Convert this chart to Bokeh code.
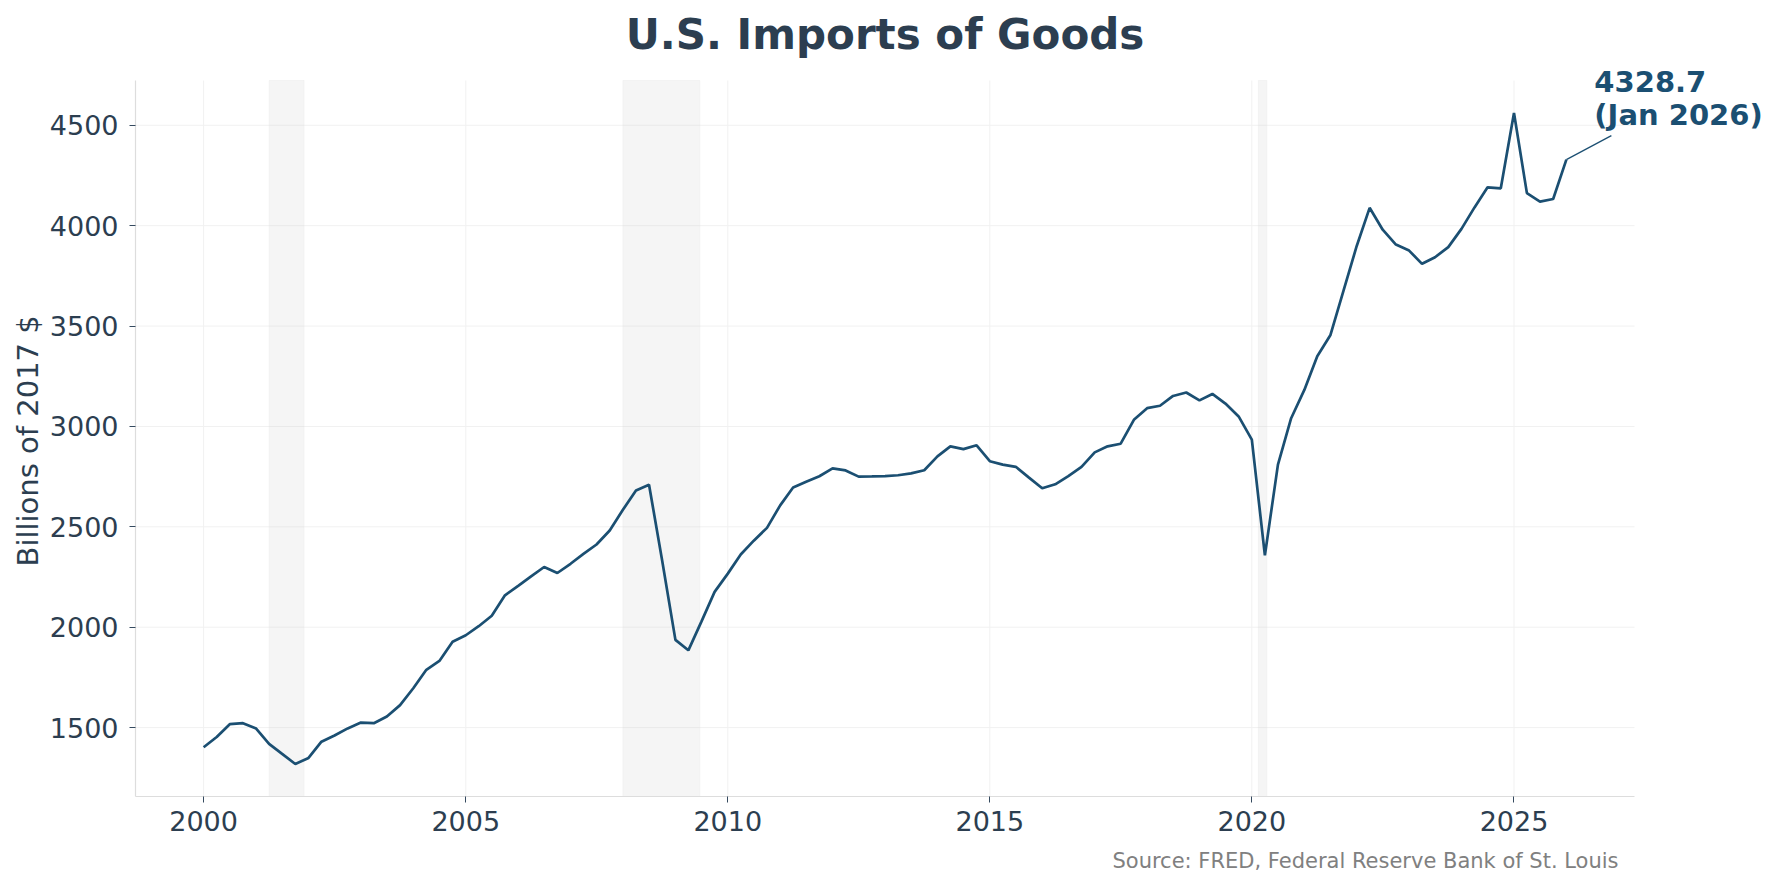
import numpy as np
import pandas as pd
from bokeh.plotting import figure
from bokeh.models import (Range1d, FixedTicker, DatetimeTickFormatter, BoxAnnotation,
                          Label, Arrow, Title, ColumnDataSource)
from bokeh.embed import file_html
from bokeh.resources import INLINE

# ---------------- data ----------------
quarter_start = "2000-01-01"
quarter_end = "2026-01-01"
imports_bn_2017usd = [
    1402, 1453, 1517, 1522,   # 2000
    1495, 1419, 1369, 1319,   # 2001
    1349, 1430, 1461, 1496,   # 2002
    1525, 1522, 1555, 1612,   # 2003
    1696, 1788, 1832, 1928,   # 2004
    1960, 2005, 2057, 2159,   # 2005
    2206, 2253, 2300, 2270,   # 2006
    2316, 2365, 2412, 2482,   # 2007
    2585, 2681, 2710, 2330,   # 2008
    1937, 1885, 2028, 2176,   # 2009
    2267, 2362, 2431, 2495,   # 2010
    2607, 2696, 2725, 2752,   # 2011
    2791, 2781, 2750, 2751,   # 2012
    2753, 2757, 2766, 2782,   # 2013
    2851, 2901, 2887, 2906,   # 2014
    2827, 2810, 2799, 2745,   # 2015
    2692, 2712, 2753, 2799,   # 2016
    2871, 2901, 2914, 3033,   # 2017
    3091, 3103, 3152, 3169,   # 2018
    3130, 3162, 3114, 3050,   # 2019
    2934, 2358, 2810, 3041,   # 2020
    3182, 3350, 3454, 3677,   # 2021
    3899, 4089, 3980, 3906,   # 2022
    3876, 3810, 3843, 3893,   # 2023
    3984, 4091, 4191, 4186,   # 2024
    4561, 4162, 4120, 4133,   # 2025
    4328.7,                   # 2026
]
y_ticks = [1500, 2000, 2500, 3000, 3500, 4000, 4500]
x_tick_years = [2000, 2005, 2010, 2015, 2020, 2025]
recession_starts = ["2001-04-01", "2008-01-01", "2020-02-15"]
recession_ends = ["2001-12-01", "2009-06-20", "2020-04-15"]
title_text = "U.S. Imports of Goods"
y_label = "Billions of 2017 $"
source_text = "Source: FRED, Federal Reserve Bank of St. Louis"
last_label_value = "4328.7"
last_label_date = "(Jan 2026)"

# ---------------- styling / layout constants ----------------
FONT = "DejaVu Sans"
DARK = "#2c3e50"
LINE = "#1b4f72"
GRID = "#f1f1f1"
W, H = 1763, 886
BL = 135            # left border (axis area)
AX_W, AX_H = 1499, 716   # visible axes box in px
EXT_TOP = 80        # frame extends above the axes box (room for title / labels)
EXT_RIGHT = W - BL - AX_W
BB = H - EXT_TOP - AX_H


def to_ms(d):
    return pd.Timestamp(d).value / 1e6


dates = pd.date_range(quarter_start, quarter_end, freq="QS")
t_ms = np.array([to_ms(d) for d in dates])
vals = np.array(imports_bn_2017usd, dtype=float)

tpad = 0.05 * (t_ms.max() - t_ms.min())
vpad = 0.05 * (vals.max() - vals.min())
x0, x1 = t_ms.min() - tpad, t_ms.max() + tpad
y0, y1 = vals.min() - vpad, vals.max() + vpad
px_x = (x1 - x0) / AX_W
px_y = (y1 - y0) / AX_H

p = figure(width=W, height=H, x_axis_type="datetime",
           x_range=Range1d(x0, x1 + EXT_RIGHT * px_x),
           y_range=Range1d(y0, y1 + EXT_TOP * px_y),
           output_backend="svg", toolbar_location=None,
           min_border_left=BL, min_border_right=0,
           min_border_top=0, min_border_bottom=BB)
p.outline_line_color = None
p.background_fill_color = "white"
p.border_fill_color = "white"
p.xgrid.visible = False
p.ygrid.visible = False

# grid lines limited to the axes box
x_tick_ms = [to_ms(f"{y}-01-01") for y in x_tick_years]
p.multi_line(xs=[[x0, x1] for _ in y_ticks], ys=[[v, v] for v in y_ticks],
             line_color=GRID, line_width=1, level="underlay")
p.multi_line(xs=[[t, t] for t in x_tick_ms], ys=[[y0, y1] for _ in x_tick_ms],
             line_color=GRID, line_width=1, level="underlay")

# recession bands
for s, e in zip(recession_starts, recession_ends):
    p.add_layout(BoxAnnotation(left=to_ms(s), right=to_ms(e), top=y1,
                               fill_color="#cccccc", fill_alpha=0.2,
                               line_color="#e6e6e6", line_width=1,
                               level="underlay"))

src = ColumnDataSource(dict(date=dates, value=vals))
p.line("date", "value", source=src, line_color=LINE, line_width=2.7)

# axes
p.xaxis.ticker = FixedTicker(ticks=x_tick_ms)
p.xaxis.formatter = DatetimeTickFormatter(
    years="%Y", months="%Y", days="%Y", hours="%Y", minutes="%Y",
    seconds="%Y", milliseconds="%Y", microseconds="%Y", hourmin="%Y", minsec="%Y")
p.xaxis.bounds = (x0, x1)
p.yaxis.ticker = FixedTicker(ticks=y_ticks)
p.yaxis.bounds = (y0, y1)

for ax in (p.xaxis[0], p.yaxis[0]):
    ax.axis_line_color = "#dddddd"
    ax.axis_line_width = 1.2
    ax.major_tick_line_color = "#34495e"
    ax.major_tick_in = 0
    ax.major_tick_out = 6
    ax.minor_tick_line_color = None
    ax.major_label_text_font = FONT
    ax.major_label_text_font_size = "27px"
    ax.major_label_text_color = DARK
p.xaxis.major_label_standoff = 8
p.yaxis.major_label_standoff = 11

# y-axis title, centred on the axes box (not on the extended frame)
p.add_layout(Title(text=y_label, align="left", offset=230, standoff=4,
                   text_font=FONT, text_font_size="29px", text_font_style="normal",
                   text_color=DARK), "left")

# chart title (drawn inside the extended frame, centred over the axes box)
p.add_layout(Label(x=(x0 + x1) / 2, y=y1, y_offset=46, text=title_text,
                   text_font=FONT, text_font_size="42px", text_font_style="bold",
                   text_color=DARK, text_align="center", text_baseline="alphabetic"))

# annotation for the last point
lx, ly = t_ms[-1], vals[-1]
p.add_layout(Arrow(end=None, x_start=lx, y_start=ly,
                   x_end=lx + 45 * px_x, y_end=ly + 24 * px_y,
                   line_color=LINE, line_width=1.3))
for txt, yoff in ((last_label_value, 78), (last_label_date, 45)):
    p.add_layout(Label(x=lx, y=ly, x_offset=28, y_offset=yoff, text=txt,
                       text_font=FONT, text_font_size="29px", text_font_style="bold",
                       text_color=LINE, text_baseline="alphabetic", text_align="left"))

# source note
p.add_layout(Title(text=source_text, align="right", text_font=FONT,
                   text_font_size="21px", text_font_style="normal",
                   text_color="#808080", standoff=27, offset=145), "below")

open("out.html", "w").write(file_html(p, INLINE))
